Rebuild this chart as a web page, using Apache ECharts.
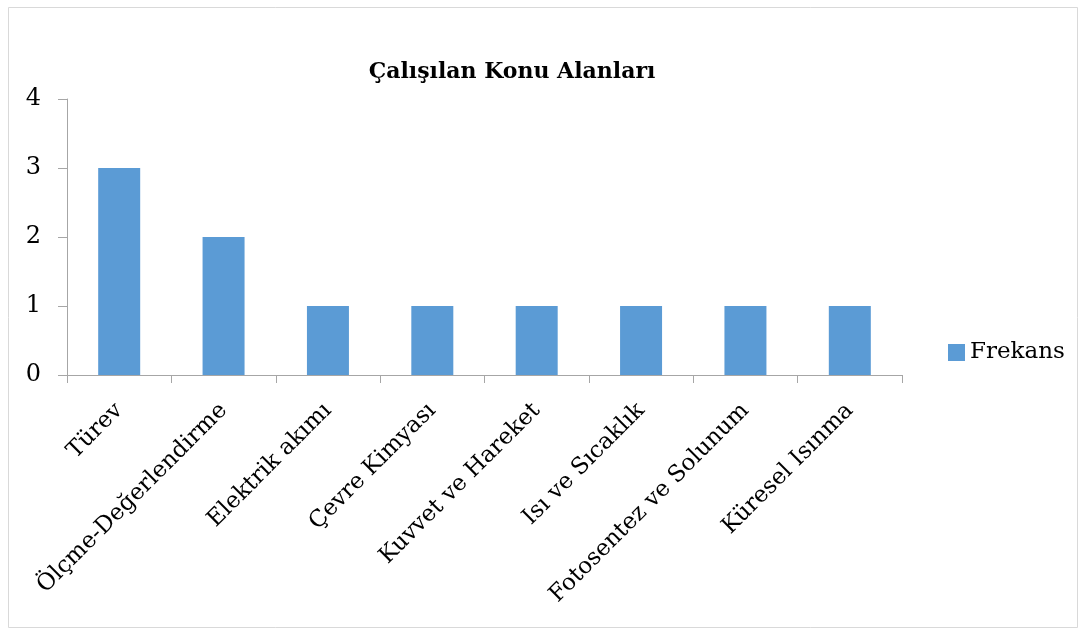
<!DOCTYPE html>
<html>
<head>
<meta charset="utf-8">
<script src="https://cdn.jsdelivr.net/npm/echarts@6/dist/echarts.min.js"></script>
<style>
  html, body { margin: 0; padding: 0; background: #fff; }
  #main { width: 1078px; height: 631px; }
</style>
</head>
<body>
<div id="main"></div>
<script>
const categories = ['Türev', 'Ölçme-Değerlendirme', 'Elektrik akımı', 'Çevre Kimyası', 'Kuvvet ve Hareket', 'Isı ve Sıcaklık', 'Fotosentez ve Solunum', 'Küresel Isınma']
const frekans = [3, 2, 1, 1, 1, 1, 1, 1]
const seriesName = 'Frekans'
const titleText = 'Çalışılan Konu Alanları'

const font = 'DejaVu Serif'
const chart = echarts.init(document.getElementById('main'))

const option = {
    backgroundColor: '#fff',
    animation: false,
    title: {
        text: titleText,
        left: 507,
        textAlign: 'center',
        top: 56,
        textStyle: { fontFamily: font, fontWeight: 'bold', fontSize: 22, color: '#000' }
    },
    legend: {
        data: [seriesName],
        left: 943,
        top: 336,
        icon: 'rect',
        itemWidth: 17,
        itemHeight: 17,
        itemGap: 5,
        textStyle: { fontFamily: font, fontSize: 23, color: '#000' }
    },
    grid: { left: 67, top: 99, right: 176, bottom: 256 },
    xAxis: {
        type: 'category',
        data: categories,
        axisLine: { lineStyle: { color: '#a6a6a6' } },
        axisTick: { show: true, length: 8, alignWithLabel: false, lineStyle: { color: '#a6a6a6' } },
        axisLabel: { rotate: 45, margin: 32, interval: 0, fontFamily: font, fontSize: 23, color: '#000' }
    },
    yAxis: {
        type: 'value',
        min: 0,
        max: 4,
        interval: 1,
        axisLine: { show: true, lineStyle: { color: '#a6a6a6' } },
        axisTick: { show: true, length: 9, lineStyle: { color: '#a6a6a6' } },
        splitLine: { show: false },
        axisLabel: { margin: 26, fontFamily: font, fontSize: 24, color: '#000' }
    },
    series: [{
        name: seriesName,
        type: 'bar',
        data: frekans,
        barWidth: 42,
        itemStyle: { color: '#5b9bd5' }
    }],
    graphic: [{
        type: 'rect',
        shape: { x: 8.5, y: 7.5, width: 1069, height: 620 },
        style: { fill: 'none', stroke: '#d9d9d9', lineWidth: 1 },
        z: -1
    }]
}
chart.setOption(option)
</script>
</body>
</html>
